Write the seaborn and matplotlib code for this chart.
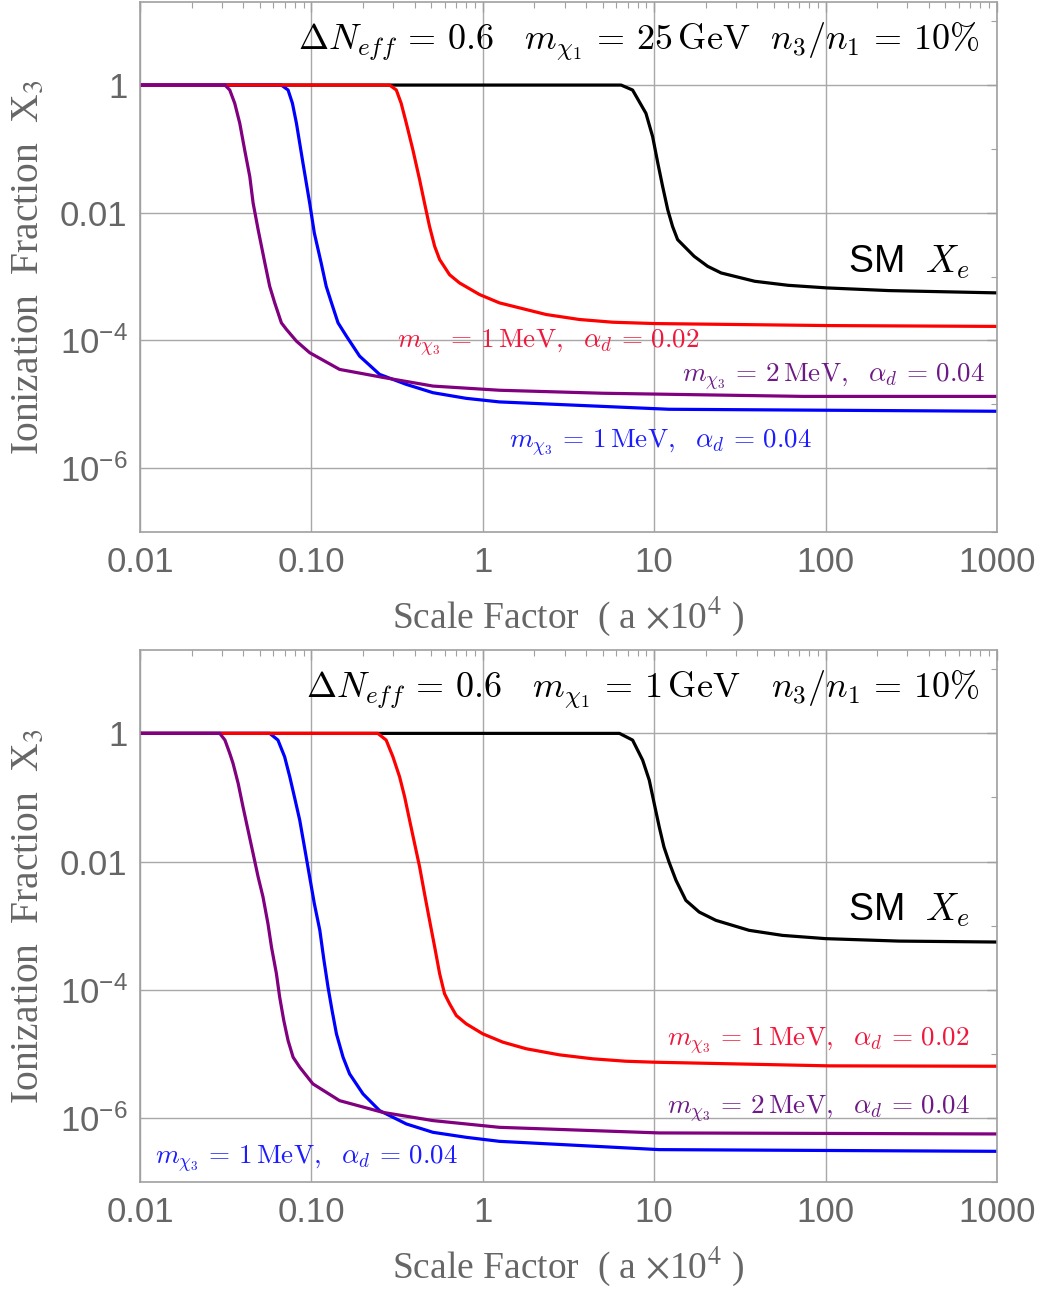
import numpy as np
import pandas as pd
import matplotlib
matplotlib.use("Agg")
import matplotlib.pyplot as plt
import seaborn as sns
from matplotlib.ticker import FixedLocator, FixedFormatter, NullFormatter

# ---------------- data ----------------
# Top panel: m_chi1 = 25 GeV
top_sm_x = [0.01, 6.41, 7.48, 8.95, 9.79, 10.5, 11.2, 12.0, 12.8, 13.7, 17.1, 20.5, 24.6, 38.6, 60.4, 102, 234, 1000]
top_sm_y = [1, 1, 0.836, 0.361, 0.156, 0.0598, 0.0258, 0.0111, 6.1e-3, 3.79e-3, 2.08e-3, 1.45e-3, 1.14e-3,
            8.45e-4, 7.31e-4, 6.65e-4, 6.04e-4, 5.56e-4]

top_red_x = [0.01, 0.286, 0.313, 0.334, 0.358, 0.391, 0.428, 0.457, 0.489, 0.524, 0.560, 0.640, 0.731, 0.957,
             1.25, 2.34, 3.66, 5.73, 10, 105, 1000]
top_red_y = [1, 1, 0.836, 0.518, 0.252, 0.0965, 0.0328, 0.0142, 6.1e-3, 2.97e-3, 1.85e-3, 1.07e-3, 7.97e-4, 5.24e-4,
             3.88e-4, 2.55e-4, 2.13e-4, 1.93e-4, 1.84e-4, 1.71e-4, 1.66e-4]

top_blue_x = [0.01, 0.0668, 0.0731, 0.0775, 0.0818, 0.0893, 0.0977, 0.104, 0.114, 0.122, 0.131, 0.143, 0.160,
              0.191, 0.250, 0.358, 0.512, 0.800, 1.25, 12.2, 1000]
top_blue_y = [1, 1, 0.836, 0.518, 0.252, 0.0598, 0.0142, 4.82e-3, 1.64e-3, 7.05e-4, 3.88e-4, 1.89e-4, 1.17e-4,
              5.69e-5, 2.94e-5, 2.05e-5, 1.52e-5, 1.24e-5, 1.09e-5, 8.36e-6, 7.78e-6]

top_purple_x = [0.01, 0.0313, 0.0334, 0.0357, 0.0382, 0.0408, 0.0437, 0.0457, 0.0489, 0.0535, 0.0571, 0.0611,
                0.0668, 0.0715, 0.0818, 0.0977, 0.146, 0.261, 0.512, 1.25, 4.99, 74, 1000]
top_purple_y = [1, 1, 0.836, 0.518, 0.252, 0.0965, 0.0369, 0.0142, 5.42e-3, 1.64e-3, 7.05e-4, 3.88e-4,
                1.89e-4, 1.49e-4, 9.75e-5, 6.43e-5, 3.52e-5, 2.64e-5, 1.93e-5, 1.66e-5, 1.49e-5, 1.33e-5, 1.33e-5]

# Bottom panel: m_chi1 = 1 GeV
bot_sm_x = [0.01, 6.27, 7.48, 8.56, 9.36, 10.0, 10.7, 11.4, 12.2, 13.4, 15.3, 18.3, 22.9, 35.8, 56.0, 100, 268, 1000]
bot_sm_y = [1, 1, 0.786, 0.383, 0.186, 0.0806, 0.0347, 0.0169, 9.86e-3, 5.1e-3, 2.48e-3, 1.63e-3, 1.21e-3,
            8.45e-4, 7.05e-4, 6.27e-4, 5.74e-4, 5.55e-4]

bot_red_x = [0.01, 0.244, 0.273, 0.299, 0.327, 0.350, 0.374, 0.400, 0.428, 0.457, 0.489, 0.524, 0.560, 0.598,
             0.640, 0.700, 0.800, 1.0, 1.31, 1.79, 2.80, 4.38, 6.85, 10, 105, 1000]
bot_red_y = [1, 1, 0.786, 0.431, 0.210, 0.102, 0.0442, 0.0191, 8.24e-3, 3.16e-3, 1.21e-3, 4.63e-4, 1.78e-4, 8.66e-5,
             6.04e-5, 3.97e-5, 2.94e-5, 2.05e-5, 1.52e-5, 1.20e-5, 9.64e-6, 8.36e-6, 7.66e-6, 7.40e-6, 6.49e-6, 6.40e-6]

bot_blue_x = [0.01, 0.0571, 0.0638, 0.0698, 0.0748, 0.0800, 0.0855, 0.0914, 0.0977, 0.104, 0.112, 0.118, 0.125,
              0.132, 0.140, 0.153, 0.167, 0.200, 0.250, 0.358, 0.512, 0.800, 1.25, 10.7, 1000]
bot_blue_y = [1, 1, 0.786, 0.431, 0.210, 0.0965, 0.0442, 0.0160, 5.74e-3, 2.21e-3, 8.45e-4, 3.05e-4, 1.10e-4,
              4.75e-5, 2.05e-5, 8.85e-6, 4.87e-6, 2.37e-6, 1.30e-6, 8.05e-7, 5.96e-7, 4.98e-7, 4.31e-7, 3.20e-7, 3.01e-7]

bot_purple_x = [0.01, 0.0292, 0.0313, 0.0334, 0.0349, 0.0374, 0.0399, 0.0427, 0.0457, 0.0489, 0.0522, 0.0558,
                0.0585, 0.0625, 0.0653, 0.0690, 0.0731, 0.0782, 0.0855, 0.102, 0.146, 0.261, 0.512, 1.25, 10.7, 1000]
bot_purple_y = [1, 1, 0.786, 0.487, 0.340, 0.165, 0.0713, 0.0308, 0.0133, 5.74e-3, 2.8e-3, 1.07e-3,
                4.63e-4, 1.78e-4, 7.66e-5, 3.31e-5, 1.61e-5, 8.85e-6, 6.18e-6, 3.40e-6, 1.86e-6, 1.22e-6, 9.08e-7,
                7.13e-7, 5.83e-7, 5.62e-7]

series_names = ["SM", "blue", "red", "purple"]          # draw order
line_colors = {"SM": "black", "blue": "#0000ff", "red": "#ff0000", "purple": "#800080"}

x_ticks = [0.01, 0.1, 1, 10, 100, 1000]
x_ticklabels = ["0.01", "0.10", "1", "10", "100", "1000"]
y_ticks = [1e-6, 1e-4, 1e-2, 1]
y_ticklabels = ["$10^{-6}$", "$10^{-4}$", "0.01", "1"]
y_minor = [1e-7, 1e-5, 1e-3, 1e-1, 10]

titles = [r"$\Delta N_{eff}\,=\,0.6\ \ \ m_{\chi_1}\,=\,25\,\mathrm{GeV}\ \ n_3/n_1\,=\,10\%$",
          r"$\Delta N_{eff}\,=\,0.6\ \ \ m_{\chi_1}\,=\,1\,\mathrm{GeV}\ \ \ n_3/n_1\,=\,10\%$"]
lab_red = r"$m_{\chi_3}\,=\,1\,\mathrm{MeV},\ \ \alpha_d\,=\,0.02$"
lab_purple = r"$m_{\chi_3}\,=\,2\,\mathrm{MeV},\ \ \alpha_d\,=\,0.04$"
lab_blue = r"$m_{\chi_3}\,=\,1\,\mathrm{MeV},\ \ \alpha_d\,=\,0.04$"

# label anchor positions (data coords, left-aligned)
top_label_pos = {"red": (0.314, 9.3e-5), "purple": (14.6, 2.74e-5), "blue": (1.43, 2.55e-6)}
bot_label_pos = {"red": (11.9, 1.61e-5), "purple": (11.9, 1.40e-6), "blue": (0.0122, 2.31e-7)}
label_colors = {"red": "#f0183c", "purple": "#6e1a86", "blue": "#1c1cff"}

# ---------------- style ----------------
sns.set_theme(style="white")
plt.rcParams["font.family"] = ["Liberation Sans", "DejaVu Sans"]
plt.rcParams["mathtext.fontset"] = "custom"
plt.rcParams["mathtext.rm"] = "Liberation Sans"
plt.rcParams["mathtext.it"] = "Liberation Sans:italic"

GRAY_TXT = "#666666"
FRAME = "#a0a0a0"

fig = plt.figure(figsize=(10.45, 12.89), dpi=100)
ax_top = fig.add_axes([140/1045, 1-532/1289, 857/1045, 530/1289])
ax_bot = fig.add_axes([140/1045, 1-1182/1289, 857/1045, 532/1289])


def make_df(d):
    rows = []
    for name in series_names:
        xs, ys = d[name]
        for i, (xv, yv) in enumerate(zip(xs, ys)):
            rows.append({"x": xv, "y": yv, "series": name, "order": i})
    return pd.DataFrame(rows)


panels = [
    (ax_top, {"SM": (top_sm_x, top_sm_y), "blue": (top_blue_x, top_blue_y),
              "red": (top_red_x, top_red_y), "purple": (top_purple_x, top_purple_y)},
     titles[0], top_label_pos, (687, 1.7e-3)),
    (ax_bot, {"SM": (bot_sm_x, bot_sm_y), "blue": (bot_blue_x, bot_blue_y),
              "red": (bot_red_x, bot_red_y), "purple": (bot_purple_x, bot_purple_y)},
     titles[1], bot_label_pos, (687, 1.74e-3)),
]

for ax, d, title, lpos, smpos in panels:
    df = make_df(d)
    sns.lineplot(data=df, x="x", y="y", hue="series", hue_order=series_names,
                 palette=line_colors, estimator=None, sort=False, lw=2.3,
                 legend=False, ax=ax)
    for ln in ax.get_lines():
        ln.set_solid_joinstyle("round")
        ln.set_solid_capstyle("round")
    ax.set_xscale("log")
    ax.set_yscale("log")
    ax.set_xlim(0.01, 1000)
    ax.set_ylim(1e-7, 20)

    ax.xaxis.set_major_locator(FixedLocator(x_ticks))
    ax.xaxis.set_major_formatter(FixedFormatter(x_ticklabels))
    minors = [m * 10.0**e for e in range(-2, 3) for m in range(2, 10)]
    ax.xaxis.set_minor_locator(FixedLocator(minors))
    ax.xaxis.set_minor_formatter(NullFormatter())
    ax.yaxis.set_major_locator(FixedLocator(y_ticks))
    ax.yaxis.set_major_formatter(FixedFormatter(y_ticklabels))
    ax.yaxis.set_minor_locator(FixedLocator(y_minor))
    ax.yaxis.set_minor_formatter(NullFormatter())

    ax.grid(True, which="major", color="#a8a8a8", lw=1.0)
    ax.tick_params(which="both", direction="in", top=True, right=True,
                   color=FRAME, labelcolor=GRAY_TXT, labelsize=25)
    ax.tick_params(which="major", length=7, width=1)
    ax.tick_params(which="minor", length=4, width=0.8)
    ax.tick_params(axis="x", pad=10)
    ax.tick_params(axis="y", pad=9)
    for s in ax.spines.values():
        s.set_color(FRAME)
        s.set_linewidth(1.2)

    ax.set_xlabel(r"Scale Factor  ( a $\times$10$^4$ )", family="Liberation Serif",
                  fontsize=27, color=GRAY_TXT, labelpad=11, math_fontfamily="stix")
    ax.set_ylabel(r"Ionization  Fraction  X$_3$", family="Liberation Serif",
                  fontsize=28.5, color=GRAY_TXT, labelpad=9, math_fontfamily="stix")

    ax.text(790, 4.7, title, ha="right", va="center", fontsize=26,
            color="black", math_fontfamily="cm")
    ax.text(smpos[0], smpos[1], r"SM  $X_e$", ha="right", va="center", fontsize=27,
            color="black", family="Liberation Sans", math_fontfamily="cm")
    lab_txt = {"red": lab_red, "purple": lab_purple, "blue": lab_blue}
    for k, (px, py) in lpos.items():
        ax.text(px, py, lab_txt[k], ha="left", va="center", fontsize=19.5,
                color=label_colors[k], math_fontfamily="cm")

fig.savefig("out.png", dpi=100)
